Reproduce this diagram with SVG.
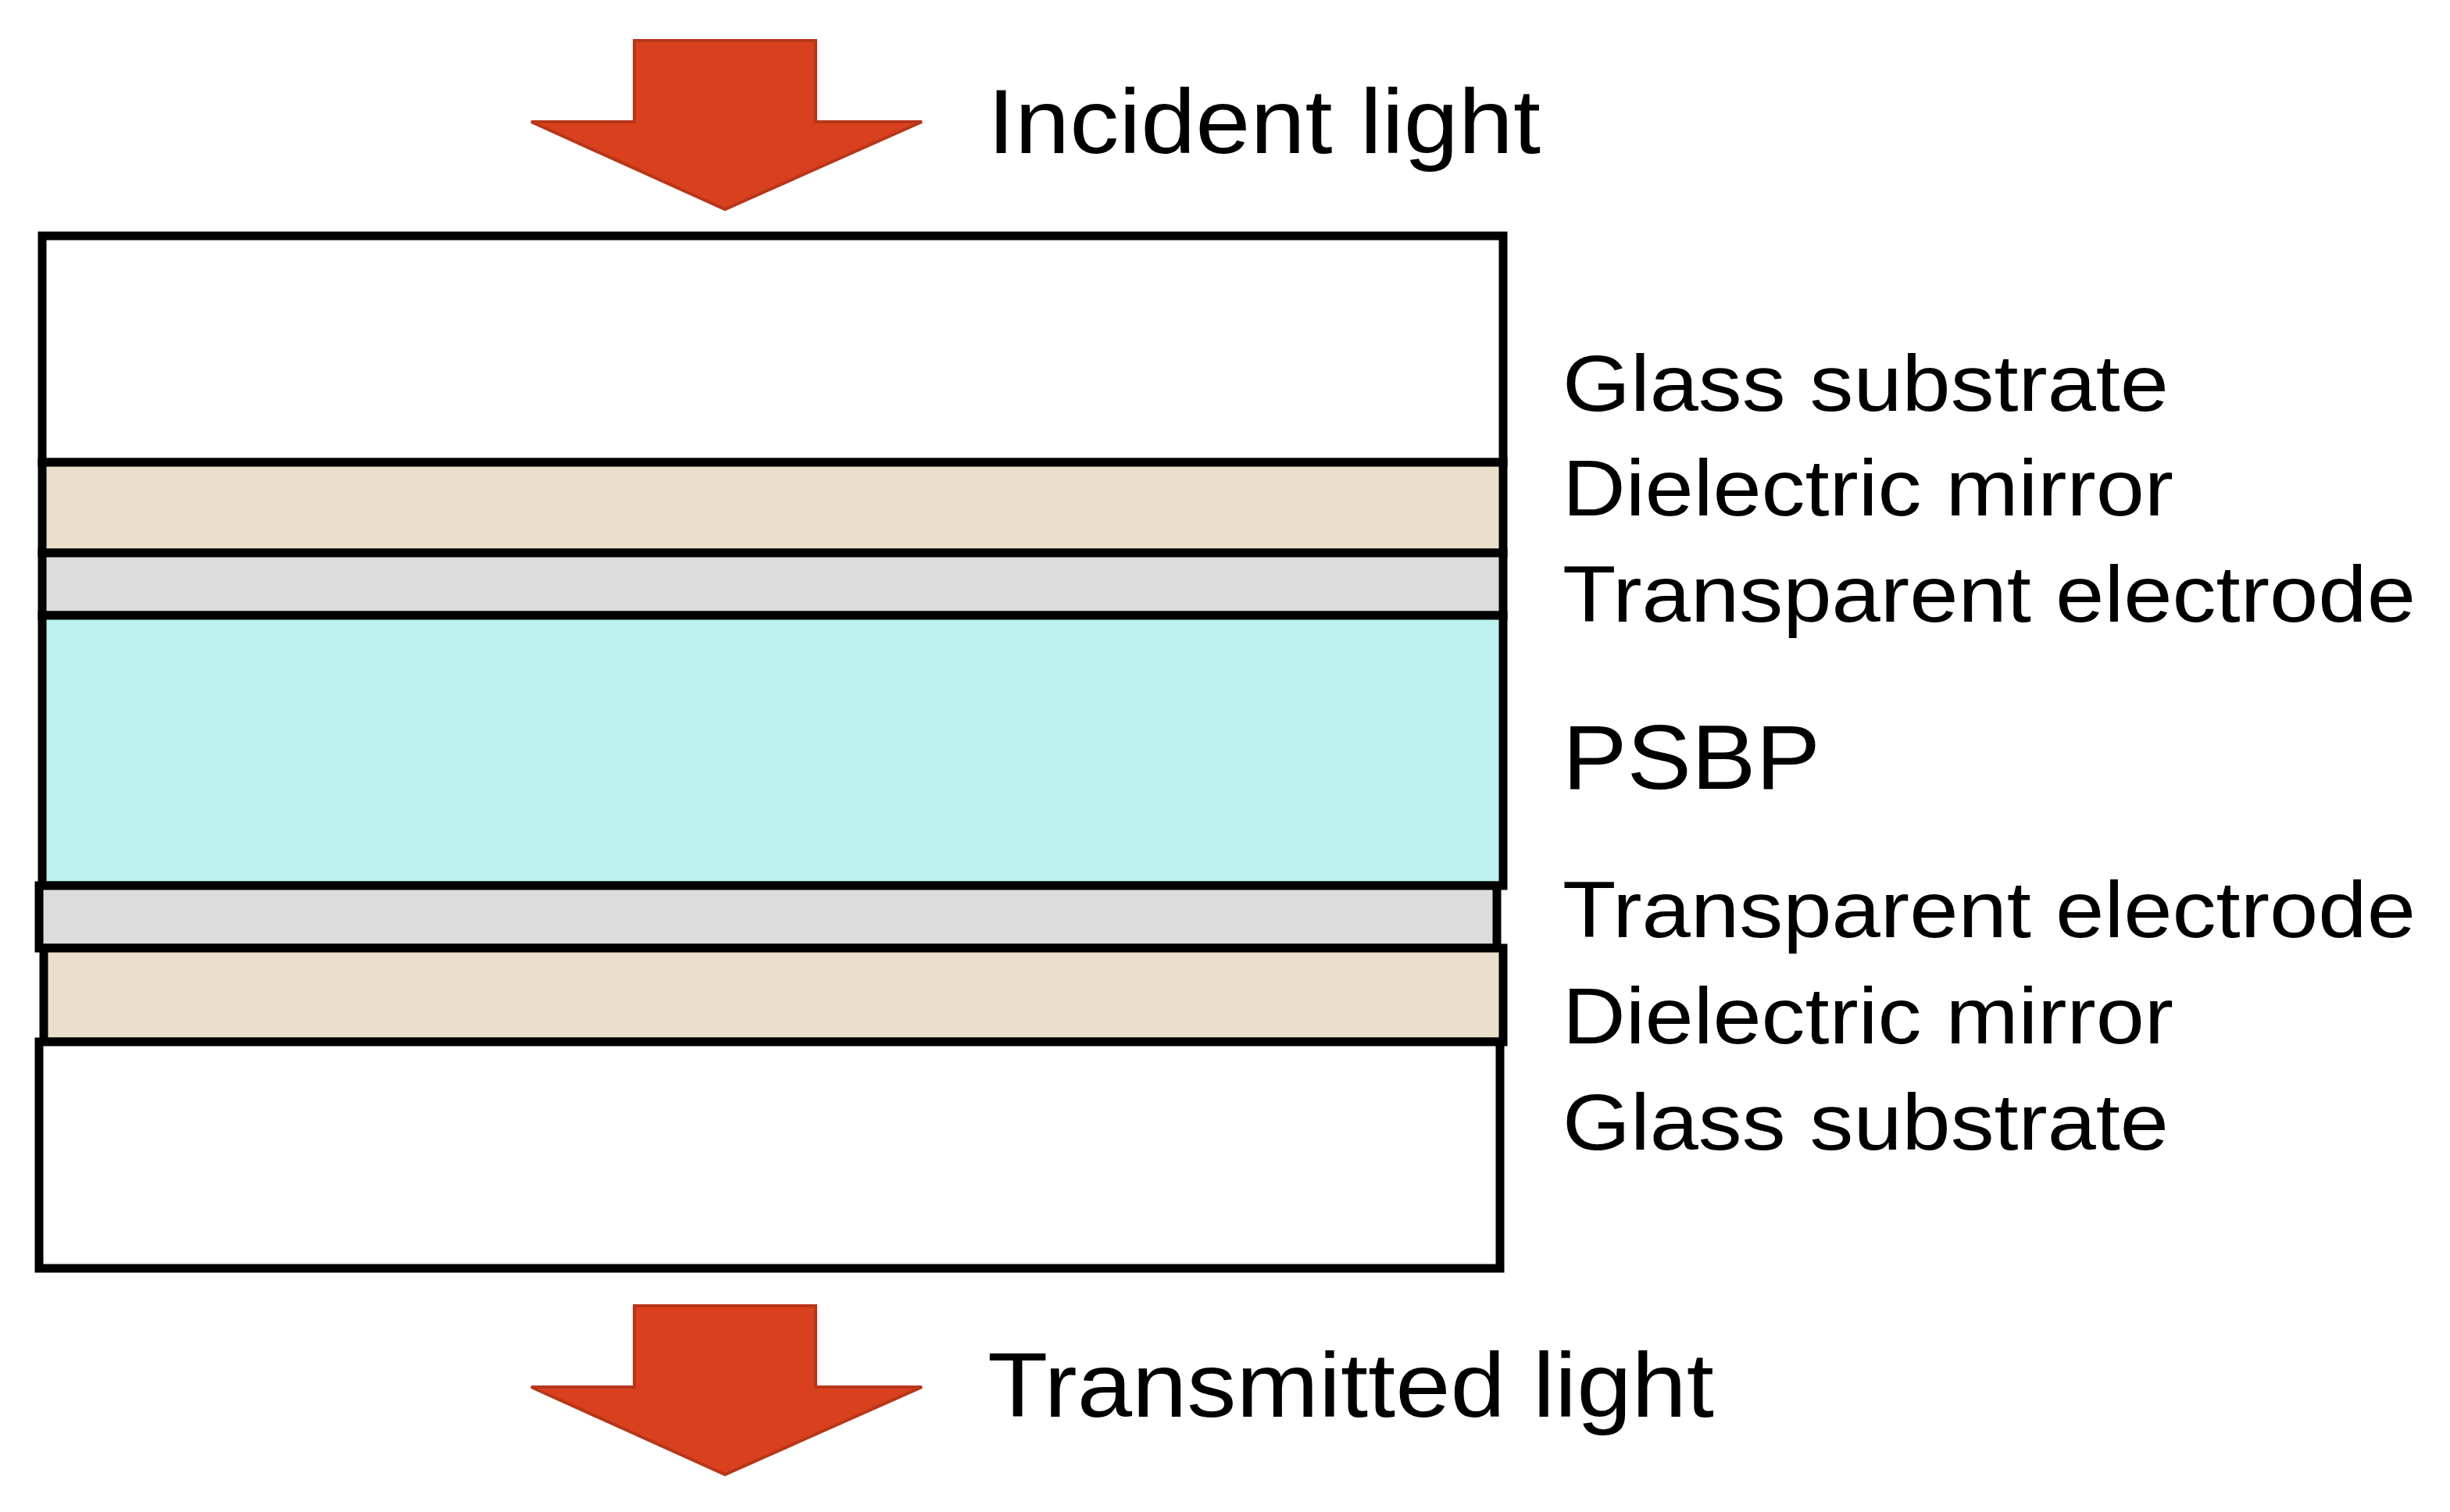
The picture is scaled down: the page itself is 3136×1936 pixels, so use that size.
<svg xmlns="http://www.w3.org/2000/svg" width="3136" height="1936" viewBox="0 0 3136 1936">
<style>
.l{stroke:#000;stroke-width:11;}
.t{font-family:"Liberation Sans",Arial,sans-serif;fill:#000;}
.lab{font-size:102px;}
.arr{fill:#D9411E;stroke:#B8361A;stroke-width:4;}
</style>
<rect width="3136" height="1936" fill="#fff"/>
<g id="incident">
<polygon class="arr" points="812,52 1044,52 1044,156 1180,156 928,268 680,156 812,156"/>
<text class="t" x="1264" y="196" font-size="116" textLength="708" lengthAdjust="spacingAndGlyphs">Incident light</text>
</g>
<g id="stack">
<rect id="glass-top" class="l" x="54" y="302" width="1870" height="290" fill="#fff"/>
<rect id="mirror-top" class="l" x="54" y="592" width="1870" height="116" fill="#EADFCB"/>
<rect id="electrode-top" class="l" x="54" y="708" width="1870" height="80" fill="#DCDCDC"/>
<rect id="psbp" class="l" x="54" y="788" width="1870" height="346" fill="#BDF2EF"/>
<rect id="electrode-bot" class="l" x="50" y="1134" width="1866" height="80" fill="#DCDCDC"/>
<rect id="mirror-bot" class="l" x="56" y="1214" width="1868" height="120" fill="#EADFCB"/>
<rect id="glass-bot" class="l" x="50" y="1334" width="1870" height="290" fill="#fff"/>
</g>
<g id="labels" class="t lab" lengthAdjust="spacingAndGlyphs">
<text x="2000" y="526" textLength="776" lengthAdjust="spacingAndGlyphs">Glass substrate</text>
<text x="2000" y="660" textLength="782" lengthAdjust="spacingAndGlyphs">Dielectric mirror</text>
<text x="2000" y="796" textLength="1092" lengthAdjust="spacingAndGlyphs">Transparent electrode</text>
<text x="2000" y="1010" font-size="116" textLength="330" lengthAdjust="spacingAndGlyphs">PSBP</text>
<text x="2000" y="1200" textLength="1092" lengthAdjust="spacingAndGlyphs">Transparent electrode</text>
<text x="2000" y="1336" textLength="782" lengthAdjust="spacingAndGlyphs">Dielectric mirror</text>
<text x="2000" y="1472" textLength="776" lengthAdjust="spacingAndGlyphs">Glass substrate</text>
</g>
<g id="transmitted">
<polygon class="arr" points="812,1672 1044,1672 1044,1776 1180,1776 928,1888 680,1776 812,1776"/>
<text class="t" x="1264" y="1814" font-size="116" textLength="930" lengthAdjust="spacingAndGlyphs">Transmitted light</text>
</g>
</svg>
